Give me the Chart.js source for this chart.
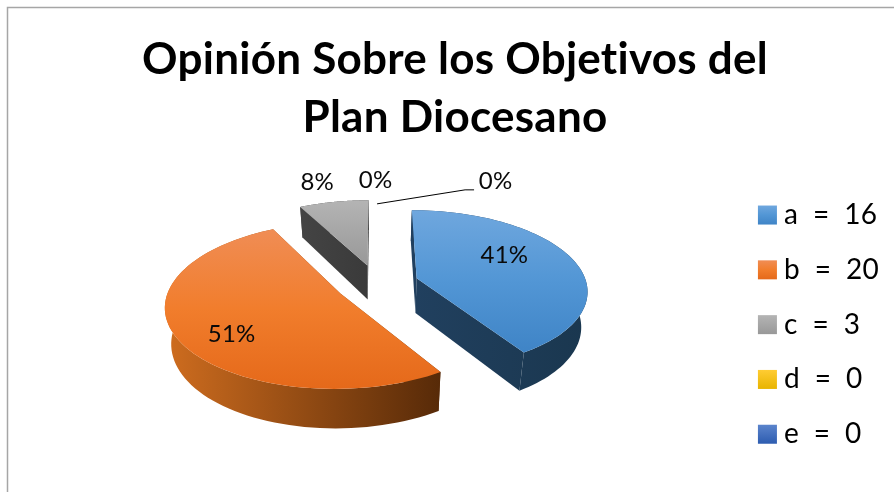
<!DOCTYPE html>
<html>
<head>
<meta charset="utf-8">
<style>
html,body{margin:0;padding:0;background:#fff;overflow:hidden}
#wrap{position:relative;width:894px;height:492px}
</style>
<script src="https://cdn.jsdelivr.net/npm/chart.js@4"></script>
</head>
<body>
<div id="wrap"><canvas id="pie" width="894" height="492"></canvas></div>
<script>
const titleLines = ['Opinión Sobre los Objetivos del', 'Plan Diocesano'];
const categories = ['a', 'b', 'c', 'd', 'e'];
const values = [16, 20, 3, 0, 0];

// top face gradient, top to bottom
const faceColors = [['#6fa7de', '#5296d5', '#3f84c6'], ['#f08d55', '#f17d2c', '#e5691a'], ['#b4b4b4', '#989898'], ['#ffcc33', '#e8b400'], ['#5b84cc', '#2d5cb0']];
// side wall gradient, left to right
const sideColors = [['#21405f', '#1a374f'], ['#cf6d1f', '#572a08'], ['#444444', '#3a3a3a'], ['#8a6d00', '#8a6d00'], ['#1f3a70', '#1f3a70']];
// label place: fraction of radius, then nudge in px
const labelPlace = [[0.55, 1.5, -11], [0.55, -21.5, 17], [1, -16.5, -20], [1, -1.5, -20], [1, 118.5, -19]];

// fake 3d: tilt and perspective applied on the arcs chart.js lays out
const TILT = 0.465, PERSP = 0.14, DEPTH = 35, DEPTH_PERSP = 4, SHRINK = 0.97;
const SHIFT_Y = -41;
const SWATCH = 19;

function project(arc, x, y){
  const w = 1 - PERSP * y / arc.outerRadius;
  return {x: arc.x + x / w, y: arc.y + SHIFT_Y + TILT * y / w};
}

function lower(arc, p, y){
  return {x: arc.x + (p.x - arc.x) * SHRINK, y: p.y + DEPTH + DEPTH_PERSP * y / arc.outerRadius};
}

function midAngle(arc){
  return (arc.startAngle + arc.endAngle) / 2;
}

function gradient(ctx, x0, y0, x1, y1, stops){
  const g = ctx.createLinearGradient(x0, y0, x1, y1);
  stops.forEach((c, k) => g.addColorStop(k / (stops.length - 1), c));
  return g;
}

// flat coordinates of the slice outline, apex first
function outline(arc){
  const mid = midAngle(arc);
  const off = arc.options.offset;
  const ax = Math.cos(mid) * off, ay = Math.sin(mid) * off;
  const pts = [{x: ax, y: ay}];
  const n = 80;
  for(let i = 0; i <= n; i++){
    const t = arc.startAngle + (arc.endAngle - arc.startAngle) * i / n;
    pts.push({x: ax + Math.cos(t) * arc.outerRadius, y: ay + Math.sin(t) * arc.outerRadius});
  }
  return pts;
}

function fillPoly(ctx, pts){
  ctx.beginPath();
  pts.forEach((p, i) => { if(i) ctx.lineTo(p.x, p.y); else ctx.moveTo(p.x, p.y); });
  ctx.closePath();
  ctx.fill();
}

function drawSlice(ctx, arc, i){
  const flat = outline(arc);
  const top = flat.map(p => project(arc, p.x, p.y));
  const bottom = top.map((p, k) => lower(arc, p, flat[k].y));
  const xs = top.concat(bottom).map(p => p.x), ysTop = top.map(p => p.y);
  const last = top.length - 1;

  ctx.fillStyle = gradient(ctx, Math.min(...xs), 0, Math.max(...xs), 0, sideColors[i]);
  // both cut walls, then the curved wall in one piece
  fillPoly(ctx, [top[0], top[1], bottom[1], bottom[0]]);
  fillPoly(ctx, [top[0], top[last], bottom[last], bottom[0]]);
  fillPoly(ctx, top.slice(1).concat(bottom.slice(1).reverse()));

  ctx.fillStyle = gradient(ctx, 0, Math.min(...ysTop), 0, Math.max(...ysTop), faceColors[i]);
  fillPoly(ctx, top);
}

const pie3d = {
  id: 'pie3d',
  beforeDraw(chart){
    const ctx = chart.ctx;
    // keeps Lato from joining "ti" in the title
    ctx.letterSpacing = '0.25px';
    // frame of the original picture
    ctx.save();
    ctx.strokeStyle = '#a6a6a6';
    ctx.lineWidth = 1.5;
    ctx.beginPath();
    ctx.moveTo(7.5, 492);
    ctx.lineTo(7.5, 7.5);
    ctx.lineTo(894, 7.5);
    ctx.stroke();
    // legend swatches, wider than the box chart.js keeps for them
    chart.legend.legendItems.forEach((item, i) => {
      const hb = chart.legend.legendHitBoxes[i];
      const y0 = hb.top + (hb.height - SWATCH) / 2;
      ctx.fillStyle = gradient(ctx, 0, y0, 0, y0 + SWATCH, faceColors[i]);
      ctx.fillRect(hb.left, y0, SWATCH, SWATCH);
    });
    ctx.restore();
  },
  beforeDatasetsDraw(chart){
    const ctx = chart.ctx;
    const arcs = chart.getDatasetMeta(0).data;
    const total = values.reduce((a, b) => a + b, 0);
    ctx.save();
    [2, 0, 1].forEach(i => drawSlice(ctx, arcs[i], i));

    // leader line of the last label
    const last = arcs[4];
    const off = last.options.offset;
    const m = midAngle(last);
    const fy = Math.sin(m) * (off + last.outerRadius);
    const fx = Math.cos(m) * (off + last.outerRadius);
    const start = project(last, fx, fy);
    ctx.strokeStyle = '#000';
    ctx.lineWidth = 1;
    ctx.beginPath();
    ctx.moveTo(start.x, start.y + 4);
    ctx.lineTo(start.x + 88, start.y - 10);
    ctx.lineTo(start.x + 97, start.y - 10);
    ctx.stroke();

    ctx.fillStyle = '#0a0a0a';
    ctx.font = '24px Lato';
    ctx.textAlign = 'center';
    ctx.textBaseline = 'middle';
    arcs.forEach((arc, i) => {
      const mid = midAngle(arc);
      const place = labelPlace[i];
      const r = arc.options.offset + arc.outerRadius * place[0];
      const p = project(arc, Math.cos(mid) * r, Math.sin(mid) * r);
      ctx.fillText(Math.round(values[i] / total * 100) + '%', p.x + place[1], p.y + place[2]);
    });
    ctx.restore();
    return false;
  }
};

new Chart(document.getElementById('pie'), {
  type: 'pie',
  data: {
    labels: categories,
    datasets: [{data: values, backgroundColor: faceColors.map(c => c[0]), borderWidth: 0, offset: 41.6, hoverOffset: 0}]
  },
  plugins: [pie3d],
  options: {
    responsive: false,
    animation: false,
    radius: 170,
    layout: {padding: {left: 23, right: 7}},
    plugins: {
      tooltip: {enabled: false},
      title: {
        display: true,
        text: titleLines,
        color: '#000',
        font: {family: 'Lato', size: 44, weight: 'bold', lineHeight: 1.31},
        padding: {top: 31, bottom: 11}
      },
      legend: {
        position: 'right',
        fullSize: false,
        labels: {
          font: {family: 'Lato', size: 28},
          color: '#0a0a0a',
          boxWidth: 12,
          boxHeight: 19,
          padding: 26.8,
          generateLabels(){
            return categories.map((c, i) => ({
              text: c + '  =  ' + values[i],
              fillStyle: 'transparent',
              strokeStyle: 'transparent',
              lineWidth: 0,
              index: i
            }));
          }
        }
      }
    }
  }
});
</script>
</body>
</html>
